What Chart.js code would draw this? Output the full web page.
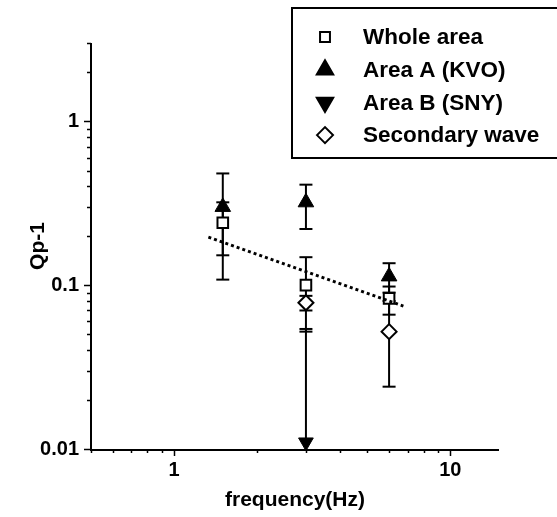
<!DOCTYPE html>
<html><head><meta charset="utf-8">
<script src="https://cdn.jsdelivr.net/npm/chart.js@4/dist/chart.umd.min.js"></script>
<style>html,body{margin:0;padding:0;background:#fff;}#wrap{width:557px;height:517px;position:relative;}canvas{display:block;}</style>
</head><body><div id="wrap"><canvas id="c" width="557" height="517" style="width:557px;height:517px"></canvas></div>
<script>
// ---- data ----
const seriesNames = ['Whole area', 'Area A (KVO)', 'Area B (SNY)', 'Secondary wave'];
const freqAll = [1.5, 3.0, 6.0];
const wholeY  = [0.24, 0.10, 0.083];
const wholeHi = [0.32, 0.148, 0.098];
const wholeLo = [0.152, 0.052, 0.066];
const areaAY  = [0.30, 0.32, 0.113];
const areaAHi = [0.48, 0.41, 0.136];
const areaALo = [0.108, 0.22, 0.09];
const freqB   = [3.0];
const areaBY  = [0.011];
const areaBHi = [0.054];
const areaBLo = [0.011];
const freqSec = [3.0, 6.0];
const secY    = [0.078, 0.052];
const secHi   = [0.086, 0.08];
const secLo   = [0.070, 0.024];
const fitX = [1.33, 6.76];
const fitY = [0.196, 0.0745];
const xMajor = [1, 10];
const yMajor = [0.01, 0.1, 1];
const xRange = [0.5, 15];
const yRange = [0.01, 3];

const FONT = "'Liberation Sans', Arial, sans-serif";
const pts = (xs, ys) => xs.map((x, i) => ({x: x, y: ys[i]}));

function logTicks(range, majors) {
  const out = [];
  const decades = [majors[0] / 10].concat(majors);
  decades.forEach(d => { for (let k = 1; k <= 9; k++) { const v = +(d * k).toPrecision(6); if (v >= range[0] - 1e-12 && v <= range[1] + 1e-12 && !out.includes(v)) out.push(v); } });
  return out.sort((a, b) => a - b);
}
const xTicks = logTicks(xRange, xMajor);
const yTicks = logTicks(yRange, yMajor);
const isMajor = (v, majors) => majors.some(m => Math.abs(m - v) / m < 1e-6);

const errSets = [
  {x: freqAll, y: wholeY, hi: wholeHi, lo: wholeLo},
  {x: freqAll, y: areaAY, hi: areaAHi, lo: areaALo},
  {x: freqB, y: areaBY, hi: areaBHi, lo: areaBLo},
  {x: freqSec, y: secY, hi: secHi, lo: secLo}
];

const axesPlugin = {
  id: 'axesAndErrors',
  beforeDatasetsDraw(chart) {
    const ctx = chart.ctx, xs = chart.scales.x, ys = chart.scales.y, a = chart.chartArea;
    ctx.save();
    ctx.strokeStyle = '#000'; ctx.lineWidth = 2; ctx.lineCap = 'butt';
    ctx.beginPath();
    ctx.moveTo(a.left, a.top); ctx.lineTo(a.left, a.bottom + 1); ctx.lineTo(a.right, a.bottom + 1);
    ctx.stroke();
    ctx.lineWidth = 1.5;
    yTicks.forEach(v => {
      const py = Math.round(ys.getPixelForValue(v)) + 0.5;
      const len = isMajor(v, yMajor) ? 7 : 4;
      ctx.beginPath(); ctx.moveTo(a.left - len, py); ctx.lineTo(a.left, py); ctx.stroke();
    });
    xTicks.forEach(v => {
      const px = Math.round(xs.getPixelForValue(v)) + 0.5;
      const len = isMajor(v, xMajor) ? 7 : 4;
      ctx.beginPath(); ctx.moveTo(px, a.bottom); ctx.lineTo(px, a.bottom + len); ctx.stroke();
    });
    // error bars
    ctx.lineWidth = 2;
    errSets.forEach(s => {
      s.x.forEach((xv, i) => {
        const px = xs.getPixelForValue(xv);
        const pHi = ys.getPixelForValue(s.hi[i]);
        const pLo = ys.getPixelForValue(s.lo[i]);
        ctx.beginPath(); ctx.moveTo(px, pHi); ctx.lineTo(px, pLo); ctx.stroke();
        ctx.beginPath(); ctx.moveTo(px - 6.5, pHi); ctx.lineTo(px + 6.5, pHi); ctx.stroke();
        if (s.lo[i] !== s.y[i]) { ctx.beginPath(); ctx.moveTo(px - 6.5, pLo); ctx.lineTo(px + 6.5, pLo); ctx.stroke(); }
      });
    });
    ctx.restore();
  }
};

const legendItems = [
  {style: 'rect', rotation: 0, radius: 7, fill: '#fff'},
  {style: 'triangle', rotation: 0, radius: 9.5, fill: '#000'},
  {style: 'triangle', rotation: 180, radius: 9.5, fill: '#000'},
  {style: 'rectRot', rotation: 0, radius: 8, fill: '#fff'}
];
const legendPlugin = {
  id: 'boxLegend',
  afterDraw(chart) {
    const ctx = chart.ctx;
    ctx.save();
    ctx.strokeStyle = '#000'; ctx.lineWidth = 2;
    ctx.strokeRect(292, 8, 300, 150);
    ctx.font = 'bold 22.5px ' + FONT;
    ctx.fillStyle = '#000'; ctx.textBaseline = 'middle'; ctx.textAlign = 'left';
    seriesNames.forEach((name, i) => {
      const y = 37 + i * 32.7;
      const it = legendItems[i];
      ctx.fillStyle = it.fill; ctx.strokeStyle = '#000';
      Chart.helpers.drawPoint(ctx, {pointStyle: it.style, rotation: it.rotation, radius: it.radius, borderWidth: 2}, 325, y);
      ctx.fillStyle = '#000';
      ctx.fillText(name, 363, y + 1);
    });
    ctx.restore();
  }
};

const tickFont = {family: FONT, size: 20, weight: 'bold'};
const titleFont = {family: FONT, size: 21, weight: 'bold'};

new Chart(document.getElementById('c'), {
  type: 'scatter',
  data: {
    datasets: [
      {label: 'fit', type: 'line', data: pts(fitX, fitY), borderColor: '#000', borderWidth: 3, borderDash: [3, 3], pointRadius: 0, fill: false, showLine: true, clip: false},
      {label: seriesNames[0], data: pts(freqAll, wholeY), pointStyle: 'rect', pointRadius: 7.5, pointBorderWidth: 2, backgroundColor: '#fff', borderColor: '#000', clip: false},
      {label: seriesNames[1], data: pts(freqAll, areaAY), pointStyle: 'triangle', pointRadius: 9, pointBorderWidth: 1, backgroundColor: '#000', borderColor: '#000', clip: false},
      {label: seriesNames[2], data: pts(freqB, areaBY), pointStyle: 'triangle', rotation: 180, pointRotation: 180, pointRadius: 8.5, pointBorderWidth: 1, backgroundColor: '#000', borderColor: '#000', clip: false},
      {label: seriesNames[3], data: pts(freqSec, secY), pointStyle: 'rectRot', pointRadius: 7.5, pointBorderWidth: 2, backgroundColor: '#fff', borderColor: '#000', clip: false}
    ]
  },
  options: {
    responsive: false,
    maintainAspectRatio: false,
    animation: false,
    devicePixelRatio: 1,
    layout: {padding: {top: 43, right: 58, left: 0, bottom: 0}},
    plugins: {legend: {display: false}, tooltip: {enabled: false}},
    scales: {
      x: {
        type: 'logarithmic', min: xRange[0], max: xRange[1],
        afterFit: s => { s.height = 68; },
        afterBuildTicks: s => { s.ticks = xTicks.map(v => ({value: v, major: isMajor(v, xMajor)})); },
        grid: {display: false, drawTicks: false},
        border: {display: false},
        ticks: {autoSkip: false, maxRotation: 0, color: '#000', font: tickFont, padding: 9,
          callback: v => isMajor(v, xMajor) ? String(v) : ''},
        title: {display: true, text: 'frequency(Hz)', color: '#000', font: titleFont, padding: {top: 0, bottom: 4}}
      },
      y: {
        type: 'logarithmic', min: yRange[0], max: yRange[1],
        afterFit: s => { s.width = 91; },
        afterBuildTicks: s => { s.ticks = yTicks.map(v => ({value: v, major: isMajor(v, yMajor)})); },
        grid: {display: false, drawTicks: false},
        border: {display: false},
        ticks: {autoSkip: false, color: '#000', font: tickFont, padding: 12,
          callback: v => isMajor(v, yMajor) ? String(v) : ''},
        title: {display: true, text: 'Qp-1', color: '#000', font: titleFont, padding: {top: 26, bottom: 0}}
      }
    }
  },
  plugins: [axesPlugin, legendPlugin]
});
</script></body></html>
